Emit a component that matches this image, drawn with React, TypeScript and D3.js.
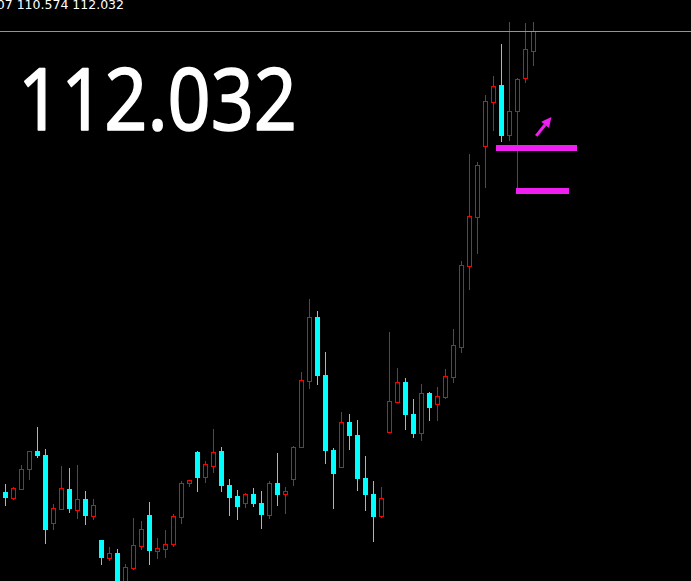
import * as d3 from 'd3';
import React from 'react';

// monthly USDJPY bars, oldest first
const opens = [
  92.82, 92.59, 92.96, 93.77, 94.52, 94.37, 91.55, 92.13, 92.95, 92.09, 92.53, 91.84, 90.82, 90.09, 90.28, 88.74, 89.67,
  90.59, 91.87, 90.38, 90.46, 90.67, 91.8, 93.19, 94.49, 93.44, 93.92, 94.53, 93.12, 92.66, 92.38, 92.74, 92.37, 91.88,
  93.2, 92.73, 93.38, 94.71, 97.44, 100.12, 97.7, 94.57, 93.88, 95.74, 95.2, 93.41, 92.74, 91.84, 95.34, 96.59, 97.41,
  96.07, 95.27, 96.95, 96.5, 96.8, 97.63, 98.88, 102.25, 104.3, 107.25, 109.09, 109.78, 107.71, 108.71, 110.06, 111.21,
];
const highs = [
  93.16, 93.05, 93.95, 94.55, 95.55, 94.62, 92.32, 93.91, 93.82, 93.95, 92.87, 92.53, 90.84, 90.53, 90.45, 89.82, 91.75,
  91.62, 92.41, 90.91, 91.24, 91.91, 93.28, 93.32, 94.53, 94.12, 95.45, 94.69, 93.35, 92.91, 92.8, 92.99, 92.87, 93.28,
  94.45, 93.03, 94.74, 97.84, 100.87, 100.37, 98.66, 94.66, 96.16, 96.07, 95.82, 94.32, 93.28, 93.03, 99.49, 97.99, 97.57,
  96.7, 97.32, 96.99, 97.2, 97.95, 99.62, 102.45, 106.91, 106.57, 109.37, 110.16, 111.49, 112.41, 110.06, 112.37, 112.407,
];
const lows = [
  92.24, 92.49, 92.95, 93.32, 94.25, 90.66, 91.24, 92.12, 91.96, 91.7, 91.45, 91.66, 89.78, 89.96, 88.32, 88.53, 89.57,
  90.41, 89.78, 90.05, 90.09, 90.55, 91.5, 93.05, 92.84, 93.19, 93.63, 92.84, 91.84, 91.67, 92.14, 92.21, 91.3, 91.7,
  92.25, 91.92, 93.09, 94.67, 97.12, 97.28, 94.0, 92.1, 93.84, 94.57, 92.88, 92.05, 90.75, 91.74, 95.32, 96.55, 95.41,
  95.09, 94.96, 95.8, 95.8, 96.71, 97.38, 98.63, 101.24, 102.74, 105.5, 107.87, 107.42, 107.46, 105.49, 109.88, 110.574,
];
const closes = [
  92.57, 92.99, 93.77, 94.52, 94.34, 91.24, 92.14, 92.98, 92.12, 92.52, 91.82, 92.28, 90.07, 90.27, 88.74, 89.7, 90.62,
  91.28, 90.38, 90.49, 90.65, 91.82, 93.2, 93.31, 93.42, 93.99, 94.49, 93.09, 92.59, 92.21, 92.74, 92.34, 91.88, 93.2,
  92.71, 92.87, 94.69, 97.49, 100.1, 97.67, 94.54, 93.59, 95.73, 95.17, 93.38, 92.71, 91.8, 92.57, 96.62, 97.4, 96.05,
  95.25, 96.94, 96.34, 96.81, 97.64, 98.94, 102.28, 104.32, 106.45, 109.12, 109.74, 107.67, 108.69, 110.03, 111.28, 112.032,
];

// drawn objects: horizontal levels (bar index range) and one arrow
const levels = [
  { price: 107.157, from: 61.4, to: 71.5 },
  { price: 105.366, from: 63.9, to: 70.5 },
];
const arrow = { from: [66.4, 107.66], to: [68.3, 108.45] };

const W = 691;
const H = 581;

function CandleChart() {
  const ref = React.useRef<SVGSVGElement>(null);

  React.useEffect(() => {
    if (!ref.current) return;
    const svg = d3.select(ref.current);
    svg.selectAll('*').remove();

    const n = closes.length;
    const last = closes[n - 1];
    const x = d3.scaleLinear().domain([0, n - 1]).range([5, 5 + 8 * (n - 1)]);
    // 24px per yen, bid line sits at row 31
    const y = d3.scaleLinear().domain([last, last - 550 / 24]).range([31, 581]);
    const py = (p: number) => Math.round(y(p));

    svg.append('rect').attr('width', W).attr('height', H).attr('fill', '#000');

    const bars = d3.range(n).map((i) => ({ i, o: opens[i], h: highs[i], l: lows[i], c: closes[i] }));
    const g = svg.append('g');

    bars.forEach((d) => {
      const cx = Math.round(x(d.i));
      const top = py(Math.max(d.o, d.c));
      const bot = py(Math.min(d.o, d.c));
      const up = d.c >= d.o;
      if (up) {
        g.append('line').attr('x1', cx + 0.5).attr('x2', cx + 0.5).attr('y1', py(d.h)).attr('y2', top).attr('stroke', '#ff0000');
        g.append('line').attr('x1', cx + 0.5).attr('x2', cx + 0.5).attr('y1', bot).attr('y2', py(d.l)).attr('stroke', '#ff0000');
        g.append('rect')
          .attr('x', cx - 1.5)
          .attr('y', top + 0.5)
          .attr('width', 4)
          .attr('height', Math.max(1, bot - top))
          .attr('fill', '#000')
          .attr('stroke', '#ff0000')
          .attr('stroke-width', 1);
      } else {
        g.append('line').attr('x1', cx + 0.5).attr('x2', cx + 0.5).attr('y1', py(d.h)).attr('y2', py(d.l)).attr('stroke', '#00ffff');
        g.append('rect')
          .attr('x', cx - 2)
          .attr('y', top)
          .attr('width', 5)
          .attr('height', Math.max(1, bot - top))
          .attr('fill', '#00ffff');
      }
    });

    // bid line
    svg.append('line')
      .attr('x1', 0)
      .attr('x2', W)
      .attr('y1', py(last) + 0.5)
      .attr('y2', py(last) + 0.5)
      .attr('stroke', '#8c96a3')
      .attr('stroke-width', 1);

    // magenta levels
    levels.forEach((lv) => {
      svg.append('rect')
        .attr('x', Math.round(x(lv.from)))
        .attr('y', py(lv.price) - 3)
        .attr('width', Math.round(x(lv.to)) - Math.round(x(lv.from)))
        .attr('height', 6)
        .attr('fill', '#f01ef0');
    });

    // arrow
    const ax0 = x(arrow.from[0]);
    const ay0 = y(arrow.from[1]);
    const ax1 = x(arrow.to[0]);
    const ay1 = y(arrow.to[1]);
    const ang = Math.atan2(ay1 - ay0, ax1 - ax0);
    const headLen = 10;
    const bx = ax1 - headLen * Math.cos(ang);
    const by = ay1 - headLen * Math.sin(ang);
    svg.append('line').attr('x1', ax0).attr('y1', ay0).attr('x2', bx).attr('y2', by).attr('stroke', '#f01ef0').attr('stroke-width', 3);
    const nx = -Math.sin(ang) * 5;
    const ny = Math.cos(ang) * 5;
    svg.append('path')
      .attr('d', `M${ax1},${ay1}L${bx + nx},${by + ny}L${bx - nx},${by - ny}Z`)
      .attr('fill', '#f01ef0');

    // OHLC readout, clipped at the left edge like the terminal shows it
    svg.append('text')
      .attr('x', 124)
      .attr('y', 9)
      .attr('text-anchor', 'end')
      .attr('font-family', 'DejaVu Sans, sans-serif')
      .attr('font-size', 12.5)
      .attr('fill', '#fff')
      .text(`USDJPY,MN1 ${opens[n - 1].toFixed(3)} ${highs[n - 1].toFixed(3)} ${lows[n - 1].toFixed(3)} ${last.toFixed(3)}`);

    // big price label
    svg.append('text')
      .attr('x', 18)
      .attr('y', 130)
      .attr('font-family', "'Comic Sans MS', 'Noto Sans', sans-serif")
      .attr('font-size', 86)
      .attr('textLength', 279)
      .attr('lengthAdjust', 'spacingAndGlyphs')
      .attr('fill', '#fff')
      .attr('stroke', '#fff')
      .attr('stroke-width', 1.5)
      .attr('stroke-linejoin', 'round')
      .text(last.toFixed(3));
  }, []);

  return <svg ref={ref} width={W} height={H} style={{ display: 'block' }} />;
}

export default function App() {
  return (
    <div style={{ position: 'fixed', left: 0, top: 0, width: W, height: H, background: '#000', overflow: 'hidden' }}>
      <CandleChart />
    </div>
  );
}
